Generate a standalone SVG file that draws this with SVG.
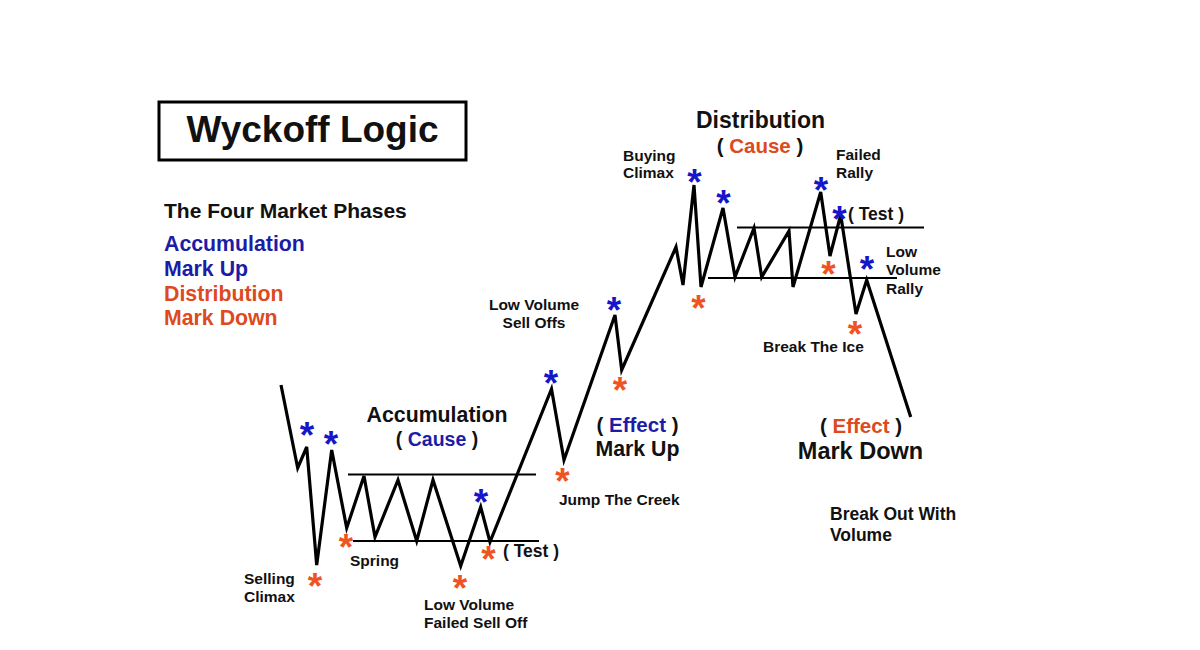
<svg xmlns="http://www.w3.org/2000/svg" width="1200" height="650" viewBox="0 0 1200 650">
<style>
text{font-family:"Liberation Sans",Arial,sans-serif;font-weight:bold;fill:#111}
.b{fill:#1c1ca6}
.o{fill:#dc4a1e}
.sb{fill:#1616c8;font-size:37px;text-anchor:middle}
.so{fill:#ef5322;font-size:37px;text-anchor:middle}
.s{font-size:15.5px}
.m{text-anchor:middle}
.price{fill:none;stroke:#000;stroke-width:3.2;stroke-linejoin:miter}
.range{stroke:#000;stroke-width:2}
</style>
<rect width="1200" height="650" fill="#fff"/>
<g id="title">
<rect x="159" y="102" width="307" height="58" fill="none" stroke="#000" stroke-width="3"/>
<text x="312.5" y="142" font-size="37" text-anchor="middle">Wyckoff Logic</text>
</g>
<g id="legend">
<text x="164" y="218" font-size="21">The Four Market Phases</text>
<text x="164" y="251" font-size="21.3" class="b">Accumulation</text>
<text x="164" y="276" font-size="21.3" class="b">Mark Up</text>
<text x="164" y="301" font-size="21.3" class="o">Distribution</text>
<text x="164" y="325" font-size="21.3" class="o">Mark Down</text>
</g>
<g id="connectors">
<polyline class="price" points="281,385 297.7,468 306.7,447 316.7,565 331.7,450 346.7,528 364,476 375,537 398,480 416.7,541 433,480 460.7,566 480.7,507 490,542 551.5,389 564,460 615,315 621.7,370 676,247 683,285 694,185 701,287 723,208 735,277 754,228 761.7,277 789,231 793,287 820.7,192 830,256 840.7,215 856,314 866.7,280 910.7,417"/>
<line class="range" x1="348" y1="474.5" x2="536" y2="474.5"/>
<line class="range" x1="353" y1="541" x2="539" y2="541"/>
<line class="range" x1="737" y1="227.5" x2="924" y2="227.5"/>
<line class="range" x1="708" y1="278" x2="897" y2="278"/>
</g>
<g id="accumulation">
<text x="437" y="422" font-size="21.3" class="m">Accumulation</text>
<text x="437" y="446" font-size="19.5" class="m">( <tspan class="b">Cause</tspan> )</text>
<text x="350" y="566" class="s">Spring</text>
<text x="244" y="584" class="s">Selling</text>
<text x="244" y="602" class="s">Climax</text>
<text x="424" y="610" class="s">Low Volume</text>
<text x="424" y="628" class="s">Failed Sell Off</text>
<text x="503" y="557" font-size="17.5">( Test )</text>
<text class="sb" x="307" y="448">*</text>
<text class="sb" x="331" y="457">*</text>
<text class="so" x="346" y="560">*</text>
<text class="so" x="315" y="599">*</text>
<text class="so" x="460" y="600.5">*</text>
<text class="sb" x="481" y="515">*</text>
<text class="so" x="488.5" y="572">*</text>
</g>
<g id="markup">
<text x="534" y="310" class="s m">Low Volume</text>
<text x="534" y="328" class="s m">Sell Offs</text>
<text x="637.5" y="432" font-size="20.5" class="m">( <tspan class="b">Effect</tspan> )</text>
<text x="637.5" y="456" font-size="21.3" class="m">Mark Up</text>
<text x="559" y="505" class="s">Jump The Creek</text>
<text class="sb" x="551" y="396">*</text>
<text class="so" x="562.5" y="493.5">*</text>
<text class="sb" x="614" y="323">*</text>
<text class="so" x="620" y="403">*</text>
</g>
<g id="distribution">
<text x="760.5" y="128" font-size="23" class="m">Distribution</text>
<text x="760" y="153" font-size="20.5" class="m">( <tspan class="o">Cause</tspan> )</text>
<text x="623" y="161" class="s">Buying</text>
<text x="623" y="178" class="s">Climax</text>
<text x="836" y="160" class="s">Failed</text>
<text x="836" y="178" class="s">Rally</text>
<text x="848" y="220" font-size="17.5">( Test )</text>
<text x="886" y="257" class="s">Low</text>
<text x="886" y="275" class="s">Volume</text>
<text x="886" y="294" class="s">Rally</text>
<text x="763" y="352" class="s">Break The Ice</text>
<text class="sb" x="694.5" y="195">*</text>
<text class="sb" x="723.5" y="216">*</text>
<text class="so" x="698.5" y="321">*</text>
<text class="sb" x="821" y="203">*</text>
<text class="sb" x="839.5" y="232">*</text>
<text class="so" x="828.5" y="287">*</text>
<text class="sb" x="867" y="282">*</text>
<text class="so" x="855" y="346.5">*</text>
</g>
<g id="markdown">
<text x="861" y="433" font-size="20.5" class="m">( <tspan class="o">Effect</tspan> )</text>
<text x="860.5" y="459" font-size="23.5" class="m">Mark Down</text>
<text x="830" y="520" font-size="17.5">Break Out With</text>
<text x="830" y="541" font-size="17.5">Volume</text>
</g>
</svg>
